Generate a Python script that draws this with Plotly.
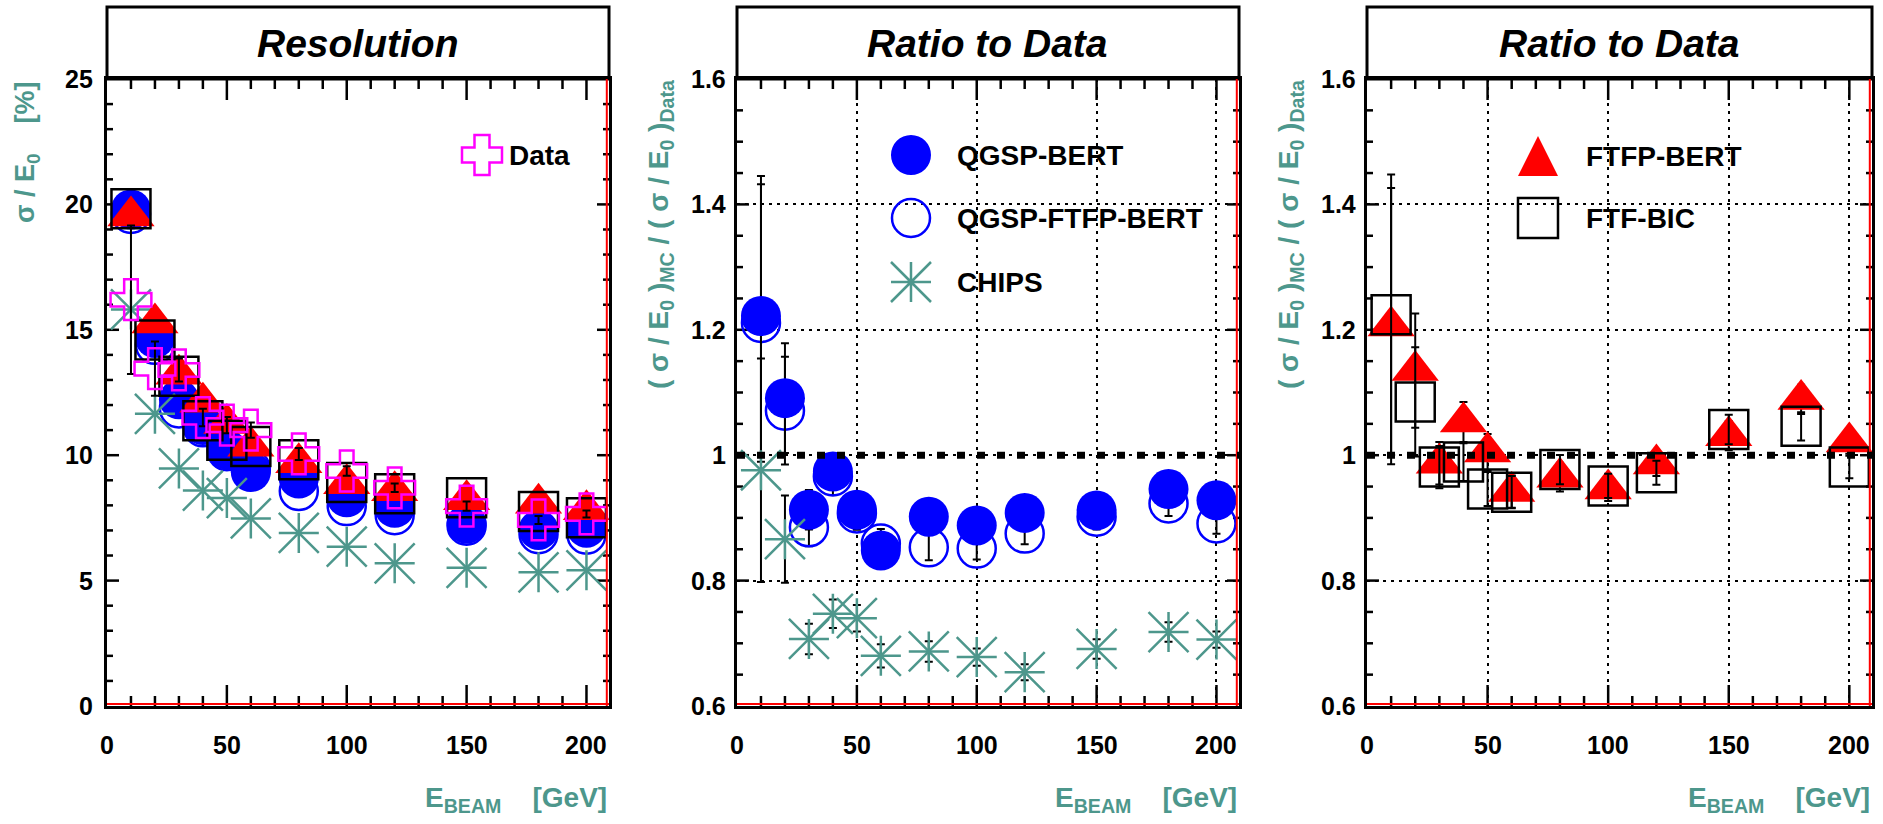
import plotly.graph_objects as go

# Beam energies [GeV]
energy = [10, 20, 30, 40, 50, 60, 80, 100, 120, 150, 180, 200]

# Energy resolution sigma/E0 [%]
res_data = [16.2, 13.45, 13.4, 11.5, 11.2, 11.0, 10.05, 9.37, 8.7, 7.97, 7.42, 7.66]
res_data_err = [2.96, 1.08, 0.46, 0.35, 0.32, 0.30, 0.24, 0.19, 0.17, 0.18, 0.16, 0.14]
res_qgsp_bert = [19.80, 14.67, 12.23, 11.20, 10.23, 9.33, 9.07, 8.32, 7.90, 7.27, 7.02, 7.11]
res_qgsp_ftfp_bert = [19.62, 14.40, 11.86, 11.11, 10.16, 9.45, 8.57, 7.97, 7.61, 7.19, 6.85, 6.83]
res_chips = [15.81, 11.65, 9.47, 8.59, 8.29, 7.48, 6.90, 6.35, 5.69, 5.51, 5.33, 5.41]
res_ftfp_bert = [19.54, 15.27, 13.23, 12.11, 11.26, 10.36, 9.70, 8.86, 8.58, 8.22, 8.08, 7.82]
res_ftf_bic = [19.83, 14.59, 13.15, 11.37, 10.60, 10.35, 9.82, 8.91, 8.46, 8.30, 7.76, 7.51]

# (sigma/E0)_MC / (sigma/E0)_Data
ratio_qgsp_bert = [1.222, 1.091, 0.913, 0.974, 0.913, 0.848, 0.902, 0.888, 0.908, 0.912, 0.946, 0.928]
ratio_qgsp_ftfp_bert = [1.211, 1.071, 0.885, 0.966, 0.907, 0.859, 0.853, 0.851, 0.875, 0.902, 0.923, 0.891]
ratio_chips = [0.976, 0.866, 0.707, 0.747, 0.740, 0.680, 0.687, 0.678, 0.654, 0.691, 0.718, 0.706]
ratio_ftfp_bert = [1.206, 1.135, 0.987, 1.053, 1.005, 0.942, 0.965, 0.946, 0.986, 1.031, 1.089, 1.021]
ratio_ftf_bic = [1.224, 1.085, 0.981, 0.989, 0.946, 0.941, 0.977, 0.951, 0.972, 1.041, 1.046, 0.981]

panel_titles = ["Resolution", "Ratio to Data", "Ratio to Data"]

# Axis ticks and their labels
x_tick_vals = [0, 50, 100, 150, 200]
x_tick_text = ["0", "50", "100", "150", "200"]
x_minor = [10, 20, 30, 40, 60, 70, 80, 90, 110, 120, 130, 140, 160, 170, 180, 190]
res_tick_vals = [0, 5, 10, 15, 20, 25]
res_tick_text = ["0", "5", "10", "15", "20", "25"]
res_minor = [1, 2, 3, 4, 6, 7, 8, 9, 11, 12, 13, 14, 16, 17, 18, 19, 21, 22, 23, 24]
ratio_tick_vals = [0.6, 0.8, 1.0, 1.2, 1.4, 1.6]
ratio_tick_text = ["0.6", "0.8", "1", "1.2", "1.4", "1.6"]
ratio_minor = [0.65, 0.7, 0.75, 0.85, 0.9, 0.95, 1.05, 1.1, 1.15,
               1.25, 1.3, 1.35, 1.45, 1.5, 1.55]

# ---------------------------------------------------------------- styling
W, H = 1883, 824
FONT = "Liberation Sans"
BLUE, RED, TEAL, MAGENTA = "#0000ff", "#ff0000", "#4d978c", "#ff00ff"
PLOT_TOP, PLOT_BOT = 79, 706
PH = PLOT_BOT - PLOT_TOP
X_EDGES = [(107, 609), (737, 1239), (1367, 1872)]
Y_DOM = [(H - PLOT_BOT) / H, (H - PLOT_TOP) / H]
XMAX = 209.4
TICK_W = 2.5


def rel_err(vals):
    # propagate the data uncertainty onto an MC/data ratio
    return [v * e / d for v, e, d in zip(vals, res_data_err, res_data)]


ERR = dict(type="data", color="black", thickness=2, width=4)


def markers(symbol, size, color, lw=0):
    return dict(symbol=symbol, size=size, color=color,
                line=dict(color=color, width=lw))


fig = go.Figure()


def add(x, y, marker, ax, err=None):
    tr = go.Scatter(x=x, y=y, mode="markers", marker=marker,
                    xaxis="x" + ax, yaxis="y" + ax, showlegend=False,
                    hoverinfo="x+y")
    if err is not None:
        tr.error_y = dict(array=err, **ERR)
    fig.add_trace(tr)


def add_chips(y, ax, err=None):
    add(energy, y, markers("cross-thin-open", 28.6, TEAL, 2.5), ax, err)
    add(energy, y, markers("x-thin-open", 40, TEAL, 2.5), ax)


# Frame ticks on all four sides, drawn as line segments pointing inwards
def frame_ticks(sfx, pw, yvals, yminor):
    ymin, ymax = yvals[0], yvals[-1]
    uy = (ymax - ymin) / PH      # data units per pixel, vertical
    ux = XMAX / pw               # data units per pixel, horizontal
    xs, ys = [], []
    for vals, length in ((x_tick_vals[1:], 21), (x_minor, 10)):
        for v in vals:
            xs += [v, v, None, v, v, None]
            ys += [ymin, ymin + length * uy, None,
                   ymax, ymax - length * uy, None]
    for vals, length in ((yvals[1:-1], 12), (yminor, 6)):
        for v in vals:
            xs += [0, length * ux, None, XMAX, XMAX - length * ux, None]
            ys += [v, v, None, v, v, None]
    fig.add_trace(go.Scatter(x=xs, y=ys, mode="lines",
                             line=dict(color="black", width=TICK_W),
                             xaxis="x" + sfx, yaxis="y" + sfx,
                             hoverinfo="skip", showlegend=False))


for i, (x0, x1) in enumerate(X_EDGES):
    sfx = "" if i == 0 else str(i + 1)
    if i == 0:
        frame_ticks(sfx, x1 - x0, res_tick_vals, res_minor)
    else:
        frame_ticks(sfx, x1 - x0, ratio_tick_vals, ratio_minor)

# Resolution panel
add(energy, res_qgsp_ftfp_bert, markers("circle-open", 38, BLUE, 2.5), "")
add(energy, res_qgsp_bert, markers("circle", 40, BLUE), "")
add_chips(res_chips, "")
add(energy, res_ftfp_bert, markers("triangle-up", 41, RED), "")
add(energy, res_ftf_bic, markers("square-open", 39, "black", 2.5), "")
add(energy, res_data, markers("cross-open", 34, MAGENTA, 2.5), "", res_data_err)

# Ratio panel, QGSP family and CHIPS
add(energy, ratio_qgsp_ftfp_bert, markers("circle-open", 38, BLUE, 2.5), "2",
    rel_err(ratio_qgsp_ftfp_bert))
add(energy, ratio_qgsp_bert, markers("circle", 40, BLUE), "2",
    rel_err(ratio_qgsp_bert))
add_chips(ratio_chips, "2", rel_err(ratio_chips))

# Ratio panel, FTF family
add(energy, ratio_ftfp_bert, markers("triangle-up", 41, RED), "3",
    rel_err(ratio_ftfp_bert))
add(energy, ratio_ftf_bic, markers("square-open", 39, "black", 2.5), "3",
    rel_err(ratio_ftf_bic))

layout = dict(width=W, height=H, margin=dict(l=0, r=0, t=0, b=0),
              paper_bgcolor="white", plot_bgcolor="white", showlegend=False)

for i, (x0, x1) in enumerate(X_EDGES):
    sfx = "" if i == 0 else str(i + 1)
    grid = i > 0
    layout["xaxis" + sfx] = dict(
        domain=[x0 / W, x1 / W], range=[0, XMAX], anchor="y" + sfx,
        showline=True, linewidth=3, linecolor="black", mirror=True,
        ticks="", showticklabels=False, tickmode="array",
        tickvals=x_tick_vals, automargin=False,
        showgrid=grid, gridcolor="black", gridwidth=2, griddash="3px,5px",
        zeroline=False)
    yvals = res_tick_vals if i == 0 else ratio_tick_vals
    layout["yaxis" + sfx] = dict(
        domain=Y_DOM, range=[yvals[0], yvals[-1]], anchor="x" + sfx,
        showline=True, linewidth=3, linecolor="black", mirror=True,
        ticks="", showticklabels=False, tickmode="array", tickvals=yvals,
        automargin=False,
        showgrid=grid, gridcolor="black", gridwidth=2, griddash="3px,5px",
        zeroline=False)

fig.update_layout(**layout)

shapes, annotations = [], []
tickfont = dict(family=FONT, size=25, color="black", weight="bold")

for i, (x0, x1) in enumerate(X_EDGES):
    sfx = "" if i == 0 else str(i + 1)
    xd, yd = "x%s domain" % sfx, "y%s domain" % sfx
    pw = x1 - x0
    yvals = res_tick_vals if i == 0 else ratio_tick_vals
    ytext = res_tick_text if i == 0 else ratio_tick_text

    # tick labels
    for v, t in zip(x_tick_vals, x_tick_text):
        annotations.append(dict(text=t, xref="x" + sfx, yref="paper", x=v,
                                y=(H - 745) / H, xanchor="center",
                                yanchor="middle", showarrow=False,
                                font=tickfont))
    for v, t in zip(yvals, ytext):
        annotations.append(dict(text=t, xref=xd, yref="y" + sfx, x=0, y=v,
                                xanchor="right", yanchor="middle",
                                xshift=-12 if i == 0 else -9,
                                showarrow=False, font=tickfont))

    # title box above the frame
    shapes.append(dict(type="rect", xref="paper", yref="paper",
                       x0=x0 / W, x1=x1 / W, y0=Y_DOM[1], y1=(H - 7) / H,
                       line=dict(color="black", width=3), layer="above"))
    annotations.append(dict(
        text="<b><i>%s</i></b>" % panel_titles[i], xref="paper", yref="paper",
        x=(x0 + x1) / 2 / W, y=(H - 43) / H, xanchor="center", yanchor="middle",
        showarrow=False, font=dict(family=FONT, size=39, color="black")))
    # red frame edges on the bottom and right sides
    shapes.append(dict(type="line", xref=xd, yref=yd, x0=0, x1=1,
                       y0=2 / PH, y1=2 / PH, line=dict(color=RED, width=2),
                       layer="above"))
    shapes.append(dict(type="line", xref=xd, yref=yd,
                       x0=1 - 2.2 / pw, x1=1 - 2.2 / pw,
                       y0=0, y1=1, line=dict(color=RED, width=2), layer="above"))
    # x-axis title
    annotations.append(dict(
        text="E<sub>BEAM</sub>\u00a0\u00a0\u00a0\u00a0[GeV]", xref=xd, yref="paper",
        x=1.0, y=(H - 799) / H, xanchor="right", yanchor="middle",
        showarrow=False,
        font=dict(family=FONT, size=28, color=TEAL, weight="bold")))
    if i > 0:
        # unity reference line
        shapes.append(dict(type="line", xref=xd, yref="y" + sfx, x0=0, x1=1,
                           y0=1, y1=1,
                           line=dict(color="black", width=7, dash="8px,12px")))

# y-axis titles
annotations.append(dict(
    text="σ / E<sub>0</sub>\u00a0\u00a0\u00a0\u00a0[%]", xref="paper", yref="paper",
    x=27 / W, y=Y_DOM[1], xanchor="center", yanchor="top", textangle=-90,
    showarrow=False, font=dict(family=FONT, size=27, color=TEAL, weight="bold")))
for xc in (660, 1290):
    annotations.append(dict(
        text="(\u00a0σ / E<sub>0</sub>\u00a0)<sub>MC</sub> / (\u00a0σ / E<sub>0</sub>\u00a0)<sub>Data</sub>",
        xref="paper", yref="paper", x=xc / W, y=Y_DOM[1] + 2 / H,
        xanchor="center", yanchor="top", textangle=-90, showarrow=False,
        font=dict(family=FONT, size=28, color=TEAL, weight="bold")))

# legend keys drawn as pixel-sized shapes with their labels
legfont = dict(family=FONT, size=28, color="black", weight="bold")


def key(ax, xa, ya, kind, color, label, xt):
    xd, yd = "x%s domain" % ax, "y%s domain" % ax
    base = dict(xref=xd, yref=yd, xsizemode="pixel", ysizemode="pixel",
                xanchor=xa, yanchor=ya, layer="above")
    if kind == "disk":
        shapes.append(dict(type="circle", x0=-20, x1=20, y0=-20, y1=20,
                           fillcolor=color, line=dict(width=0), **base))
    elif kind == "ring":
        shapes.append(dict(type="circle", x0=-19, x1=19, y0=-19, y1=19,
                           line=dict(color=color, width=2.5), **base))
    elif kind == "star":
        shapes.append(dict(type="path",
                           path="M0,-20V20M-20,0H20M-20,-20L20,20M-20,20L20,-20",
                           line=dict(color=color, width=2.5), **base))
    elif kind == "tri":
        shapes.append(dict(type="path", path="M-20,-20L20,-20L0,20Z",
                           fillcolor=color, line=dict(width=0), **base))
    elif kind == "box":
        shapes.append(dict(type="rect", x0=-20, x1=20, y0=-20, y1=20,
                           line=dict(color=color, width=2.5), **base))
    elif kind == "cross":
        shapes.append(dict(type="path",
                           path="M-7.5,-20H7.5V-7.5H20V7.5H7.5V20H-7.5V7.5H-20V-7.5H-7.5Z",
                           line=dict(color=color, width=2.5), **base))
    annotations.append(dict(text=label, xref=xd, yref=yd, x=xt, y=ya,
                            xanchor="left", yanchor="middle", showarrow=False,
                            font=legfont))


row = lambda ypx: (PLOT_BOT - ypx) / PH
key("", 0.747, row(155), "cross", MAGENTA, "Data", 0.797)
key("2", 0.3466, row(155), "disk", BLUE, "QGSP-BERT", 0.435)
key("2", 0.3466, row(218), "ring", BLUE, "QGSP-FTFP-BERT", 0.435)
key("2", 0.3466, row(282), "star", TEAL, "CHIPS", 0.435)
key("3", 0.3386, row(156), "tri", RED, "FTFP-BERT", 0.4296)
key("3", 0.3386, row(218), "box", "black", "FTF-BIC", 0.4296)

fig.update_layout(shapes=shapes, annotations=annotations)
fig.write_html("out.html")
